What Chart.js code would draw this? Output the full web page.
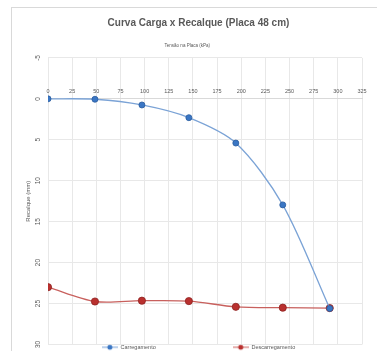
<!DOCTYPE html>
<html>
<head>
<meta charset="utf-8">
<script src="https://cdn.jsdelivr.net/npm/chart.js@4.4.0/dist/chart.umd.min.js"></script>
<style>
    html, body { margin: 0; padding: 0; background: #fff; overflow: hidden; width: 377px; height: 351px; }
    #frame {
        position: absolute;
        left: 11px;
        top: 7px;
        width: 386px;
        height: 352px;
        border: 1px solid #d9d9d9;
    }
</style>
</head>
<body>
<div id="frame"><canvas id="chart"></canvas></div>
<script>
// Tensão na placa (kPa) para cada estágio
const tensao = [0, 48.6, 97.2, 145.8, 194.4, 243, 291.6];
// Recalques lidos (mm)
const carregamento = [0, 0.05, 0.75, 2.3, 5.4, 12.95, 25.6];
const descarregamento = [23.0, 24.75, 24.65, 24.7, 25.4, 25.5, 25.55];

const seriesNames = ['Carregamento', 'Descarregamento'];
const xTicks = { min: 0, max: 325, step: 25 };
const yTicks = { min: -5, max: 30, step: 5 };

const FONT = "'Liberation Sans', Arial, sans-serif";
const TEXT = '#595959';
const GRID = '#e8e8e8';

const blue = { line: '#7ba3d6', point: '#3a76c4', border: '#2a5c9e' };
const red = { line: '#c8605d', point: '#b9302e', border: '#8e2221' };

function toPoints(values) {
    return tensao.map((x, i) => ({ x: x, y: values[i] }));
}

// small line + dot marker for the legend, like the Excel legend keys
function legendKey(colors) {
    const c = document.createElement('canvas');
    c.width = 16;
    c.height = 8;
    const ctx = c.getContext('2d');
    ctx.strokeStyle = colors.line;
    ctx.lineWidth = 1;
    ctx.beginPath();
    ctx.moveTo(0, 4);
    ctx.lineTo(16, 4);
    ctx.stroke();
    ctx.fillStyle = colors.point;
    ctx.beginPath();
    ctx.arc(8, 4, 2.5, 0, Math.PI * 2);
    ctx.fill();
    return c;
}

const keys = [legendKey(blue), legendKey(red)];

// Excel centres title and legend on the whole frame, not on the padded area
const centerOnFrame = {
    id: 'centerOnFrame',
    afterLayout(chart, args, opts) {
        chart.boxes.forEach(box => {
            if (box instanceof Chart.Scale) return;
            box.left += opts.shift;
            box.right += opts.shift;
        });
    }
};

new Chart(document.getElementById('chart'), {
    type: 'line',
    data: {
        datasets: [{
            label: seriesNames[0],
            data: toPoints(carregamento),
            borderColor: blue.line,
            borderWidth: 1.3,
            pointBackgroundColor: blue.point,
            pointBorderColor: blue.border,
            pointBorderWidth: 0.8,
            pointRadius: 3,
            tension: 0.3,
            fill: false
        }, {
            label: seriesNames[1],
            data: toPoints(descarregamento),
            borderColor: red.line,
            borderWidth: 1.3,
            pointBackgroundColor: red.point,
            pointBorderColor: red.border,
            pointBorderWidth: 0.8,
            pointRadius: 3.6,
            tension: 0.3,
            fill: false
        }]
    },
    plugins: [centerOnFrame],
    options: {
        responsive: true,
        maintainAspectRatio: false,
        animation: false,
        layout: {
            // the frame runs past the right edge of the window, like the cropped original
            padding: { left: 13, right: 36, top: 0, bottom: 0 }
        },
        plugins: {
            centerOnFrame: { shift: 5 },
            title: {
                display: true,
                text: 'Curva Carga x Recalque (Placa 48 cm)',
                color: TEXT,
                font: { family: FONT, size: 10, weight: 'bold', lineHeight: 1.2 },
                padding: { top: 9.5, bottom: 6 }
            },
            subtitle: {
                display: true,
                text: 'Tensão na Placa (kPa)' + '\u2003'.repeat(5),
                color: TEXT,
                font: { family: FONT, size: 4.5, lineHeight: 1.2 },
                padding: { top: 7.8, bottom: 9.2 }
            },
            legend: {
                position: 'bottom',
                labels: {
                    usePointStyle: true,
                    pointStyleWidth: 16,
                    color: TEXT,
                    font: { family: FONT, size: 5.5 },
                    padding: 0,
                    generateLabels: (chart) => chart.data.datasets.map((ds, i) => ({
                        text: i === 0 ? ds.label + '\u2003'.repeat(14) : ds.label,
                        pointStyle: keys[i],
                        fillStyle: ds.pointBackgroundColor,
                        strokeStyle: ds.borderColor,
                        lineWidth: 0,
                        fontColor: TEXT,
                        datasetIndex: i
                    }))
                }
            },
            tooltip: { enabled: false }
        },
        scales: {
            x: {
                type: 'linear',
                position: { y: 0 },
                min: xTicks.min,
                max: xTicks.max,
                ticks: {
                    stepSize: xTicks.step,
                    color: TEXT,
                    font: { family: FONT, size: 5.5 },
                    padding: -10.5,
                    maxRotation: 0
                },
                grid: { color: GRID, drawTicks: false },
                border: { color: '#d9d9d9' }
            },
            y: {
                reverse: true,
                min: yTicks.min,
                max: yTicks.max,
                ticks: {
                    stepSize: yTicks.step,
                    color: TEXT,
                    font: { family: FONT, size: 6.5 },
                    minRotation: 90,
                    maxRotation: 90,
                    crossAlign: 'center',
                    padding: 6.5
                },
                grid: { color: GRID, drawTicks: false },
                border: { display: false },
                title: {
                    display: true,
                    text: 'Recalque (mm)',
                    color: TEXT,
                    font: { family: FONT, size: 6, lineHeight: 1.2 },
                    padding: { top: 0, bottom: -5 }
                }
            }
        }
    }
});
</script>
</body>
</html>
